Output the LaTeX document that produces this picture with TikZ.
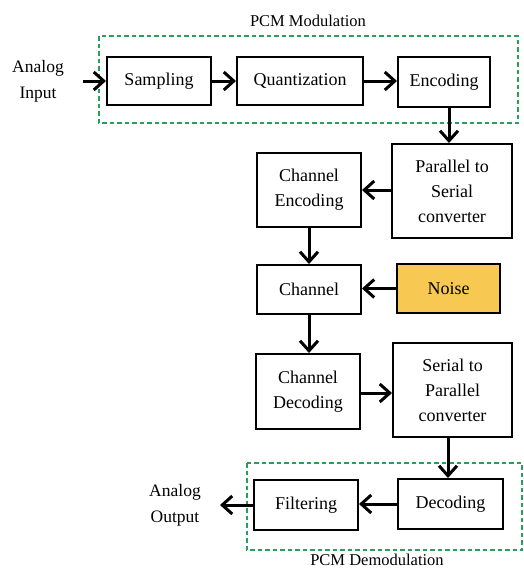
\documentclass[tikz,border=0pt]{standalone}
\usepackage{fontspec}
\setmainfont{Liberation Serif}
\usetikzlibrary{arrows.meta,calc}
\definecolor{noisefill}{RGB}{247,201,82}
\definecolor{dashgreen}{RGB}{40,160,90}
\tikzset{
  blk/.style={draw=black, line width=2pt, fill=white, align=center, inner sep=0pt,
    font=\fontsize{18}{25}\selectfont},
  conn/.style={line width=3pt, -{Straight Barb[length=10pt,width=18pt,line width=3pt]}},
  grp/.style={draw=dashgreen, line width=1.6pt, dash pattern=on 4.5pt off 3pt},
  lbl/.style={align=center, inner sep=0pt, font=\fontsize{17.5}{26}\selectfont},
  ttl/.style={inner sep=0pt, font=\fontsize{16.5}{20}\selectfont},
}
\begin{document}
\begin{tikzpicture}[x=1pt,y=-1pt]
\useasboundingbox (0,0) rectangle (524,568);
% group boxes
\draw[grp] (99,36) rectangle (518,123);
\draw[grp] (247,463) rectangle (522,550);
\node[ttl] (t1) at (308,21) {PCM Modulation};
\node[ttl] (t2) at (377,560) {PCM Demodulation};
% blocks
\node[blk, minimum width=104pt, minimum height=48pt] (samp) at (159,81) {Sampling};
\node[blk, minimum width=126pt, minimum height=48pt] (quant) at (300,81) {Quantization};
\node[blk, minimum width=92pt, minimum height=50pt] (enc) at (444,82) {Encoding};
\node[blk, minimum width=120pt, minimum height=94pt] (p2s) at (452,191) {Parallel to\\Serial\\converter};
\node[blk, minimum width=104pt, minimum height=74pt] (chenc) at (309,190) {Channel\\Encoding};
\node[blk, minimum width=104pt, minimum height=49pt] (chan) at (309,289.5) {Channel};
\node[blk, fill=noisefill, minimum width=103pt, minimum height=49pt] (noise) at (448.5,288.5) {Noise};
\node[blk, minimum width=104pt, minimum height=75pt] (chdec) at (308,391.5) {Channel\\Decoding};
\node[blk, minimum width=119pt, minimum height=94pt] (s2p) at (452.5,390) {Serial to\\Parallel\\converter};
\node[blk, minimum width=105pt, minimum height=50pt] (dec) at (450.5,504) {Decoding};
\node[blk, minimum width=104pt, minimum height=50pt] (filt) at (306,505) {Filtering};
% text ends
\node[lbl] (ain) at (38,81) {Analog\\Input};
\node[lbl] (aout) at (175,505) {Analog\\Output};
\coordinate (ainend) at (83,81);
\coordinate (aoutend) at (220,505);
\coordinate (encout) at (449,107);
\coordinate (s2pout) at (448,437);
\coordinate (chdecout) at (360,393);
% connectors
\draw[conn] (ainend) -- (samp.west);
\draw[conn] (samp.east) -- (quant.west);
\draw[conn] (quant.east) -- (quant.east -| enc.west);
\draw[conn] (encout) -- (encout |- p2s.north);
\draw[conn] (p2s.west |- chenc.east) -- (chenc.east);
\draw[conn] (chenc.south) -- (chenc.south |- chan.north);
\draw[conn] (noise.west) -- (noise.west -| chan.east);
\draw[conn] (chan.south) -- (chan.south |- chdec.north);
\draw[conn] (chdecout) -- (chdecout -| s2p.west);
\draw[conn] (s2pout) -- (s2pout |- dec.north);
\draw[conn] (dec.west) -- (dec.west -| filt.east);
\draw[conn] (filt.west) -- (aoutend);
\end{tikzpicture}
\end{document}
